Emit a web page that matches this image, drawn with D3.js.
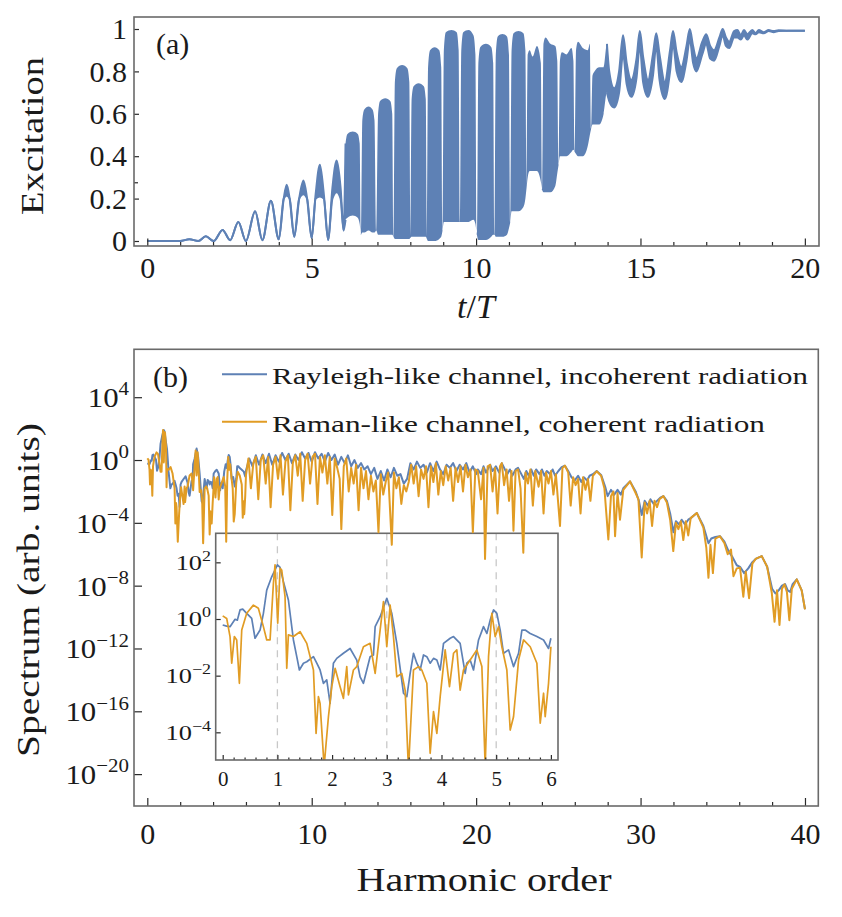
<!DOCTYPE html>
<html><head><meta charset="utf-8">
<script src="https://cdn.jsdelivr.net/npm/d3@7/dist/d3.min.js"></script>
<style>
html,body{margin:0;padding:0;background:#fff}
svg{display:block}
text{font-family:"Liberation Serif","Times New Roman",serif;fill:#1a1a1a}
</style></head><body>
<svg id="chart" width="842" height="917"></svg>
<script>
// ---------- Panel (a): excitation vs t/T (upper / lower envelope of the fast oscillation) ----------
const excT = [0,1,1.28,1.55,1.78,2.02,2.29,2.52,2.77,3,3.28,3.5,3.76,4,4.15,4.24,4.33,4.47,4.62,4.75,4.86,5,5.12,5.25,5.37,5.5,5.63,5.76,5.88,5.97,
  6.03,6.09,6.25,6.40,6.46, 6.50, 6.54,6.60,6.73,6.85,6.91, 6.965, 7.02,7.08,7.24,7.39,7.45, 7.49,
  7.53,7.59,7.75,7.91,7.97, 8.005, 8.04,8.10,8.25,8.41,8.47, 8.505, 8.54,8.60,8.74,8.88,8.94, 8.98,
  9.02,9.08,9.25,9.41,9.47, 9.51, 9.55,9.61,9.77,9.92,9.98, 10.025, 10.07,10.13,10.3,10.46,10.52, 10.56,
  10.6,10.66,10.8,10.94,11.0, 11.04, 11.08,11.14,11.29,11.44,11.5, 11.535, 11.57,11.63,11.72,11.85,11.97, 12.01,
  12.05,12.11,12.26,12.41,12.47, 12.51, 12.55,12.61,12.75,12.9,12.96, 13.0, 13.04,13.10,13.25,13.4,13.46, 13.5,
  13.54,13.6,13.75,13.88,
  13.98,14.05,14.2,14.35,14.47,14.58,14.72,14.88,14.98,15.08,15.23,15.38,15.48,15.58,15.74,15.9,15.99,
  16.1,16.24,16.4,16.5,16.6,16.7,16.88,17.0,17.12,17.24,17.4,17.5,17.6,17.7,
  17.85,17.95,18.05,18.15,18.25,18.4,18.5,18.6,18.75,18.9,19.05,19.2,19.5,20];
const excHi = [0,0,0.008,0,0.022,0,0.052,0.004,0.09,0,0.14,0.004,0.19,0.008,0.2,0.265,0.2,0.02,0.2,0.285,0.2,0.013,0.22,0.36,0.22,0.005,0.25,0.38,0.25,0.05,
  0.46,0.505,0.516,0.505,0.46, 0.03, 0.57,0.62,0.634,0.62,0.57, 0.05, 0.60,0.66,0.673,0.66,0.60, 0.02,
  0.75,0.815,0.83,0.815,0.75, 0.015, 0.67,0.73,0.744,0.73,0.67, 0.01, 0.82,0.90,0.914,0.90,0.82, 0.05,
  0.90,0.985,0.995,0.985,0.90, 0.09, 0.90,0.985,0.995,0.97,0.88, 0.03, 0.84,0.915,0.93,0.915,0.84, 0.03,
  0.88,0.965,0.976,0.965,0.88, 0.09, 0.90,0.98,0.99,0.98,0.90, 0.25, 0.88,0.90,0.87,0.92,0.84, 0.24,
  0.93,0.96,0.93,0.92,0.85, 0.36, 0.85,0.89,0.88,0.91,0.85, 0.42, 0.90,0.94,0.91,0.90,0.93, 0.53,
  0.78,0.80,0.82,0.82,
  0.93,0.80,0.72,0.80,0.97,0.84,0.76,0.86,0.99,0.87,0.76,0.88,0.98,0.88,0.75,0.90,0.99,
  0.89,0.82,0.92,1.0,0.92,0.86,0.94,0.975,0.92,0.90,0.96,1.0,0.96,0.94,
  0.99,0.995,0.97,0.995,0.975,0.995,0.98,0.995,0.985,0.995,0.99,0.994,0.992,0.992];
const excLo = [0,0,0.008,0,0.022,0,0.052,0.004,0.09,0,0.14,0.004,0.19,0.008,0.2,0.215,0.2,0.02,0.2,0.22,0.2,0.013,0.2,0.21,0.2,0.005,0.2,0.23,0.2,0.05,
  0.10,0.11,0.12,0.11,0.08, 0.03, 0.04,0.04,0.05,0.04,0.04, 0.05, 0.03,0.03,0.03,0.03,0.03, 0.02,
  0.01,0.01,0.01,0.01,0.01, 0.015, 0.02,0.02,0.02,0.02,0.02, 0.01, 0.0,0.0,0.0,0.01,0.02, 0.05,
  0.09,0.09,0.09,0.09,0.09, 0.09, 0.09,0.09,0.09,0.10,0.08, 0.03, 0.005,0.005,0.005,0.02,0.03, 0.03,
  0.02,0.02,0.02,0.03,0.06, 0.09, 0.14,0.14,0.14,0.16,0.20, 0.25, 0.30,0.33,0.33,0.33,0.28, 0.24,
  0.23,0.23,0.23,0.26,0.32, 0.36, 0.40,0.40,0.40,0.42,0.43, 0.42, 0.41,0.40,0.40,0.45,0.50, 0.53,
  0.55,0.55,0.55,0.60,
  0.70,0.66,0.63,0.70,0.88,0.74,0.68,0.77,0.92,0.75,0.68,0.78,0.92,0.76,0.67,0.80,0.93,
  0.80,0.75,0.85,0.95,0.84,0.80,0.88,0.93,0.86,0.85,0.92,0.97,0.92,0.91,
  0.96,0.96,0.95,0.97,0.95,0.98,0.975,0.985,0.98,0.99,0.985,0.99,0.992,0.992];
const excXTicks = [0,5,10,15,20];
const excYTicks = [0,0.2,0.4,0.6,0.8,1];

// ---------- Panel (b): spectra, log10 values, harmonic order 0..6 (also used by inset) ----------
const rayH0 = [0,0.073,0.134,0.226,0.268,0.317,0.366,0.439,0.53,0.591,0.683,0.744,0.805,0.896,1.0,1.049,1.11,1.201,1.293,1.354,
  1.402,1.476,1.537,1.659,1.72,1.78,1.841,1.902,1.963,2.024,2.085,2.207,2.329,2.451,2.512,2.573,2.634,2.695,2.756,2.787,
  2.878,3.0,3.091,3.183,3.305,3.366,3.427,3.488,3.549,3.61,3.671,3.732,3.793,3.854,3.915,3.976,4.037,4.159,4.22,4.341,
  4.433,4.463,4.524,4.585,4.677,4.768,4.829,4.89,4.951,5.012,5.073,5.134,5.226,5.317,5.409,5.47,5.53,5.622,5.744,5.866,5.957,6.0];
const rayL0 = [-0.21,-0.25,-0.27,-0.01,-0.04,0.32,0.35,0.2,0.02,-0.68,-0.39,0.2,1.02,1.49,1.91,1.82,1.32,0.67,-0.74,-1.33,
  -1.8,-1.56,-1.51,-1.33,-1.56,-1.8,-2.27,-2.15,-2.98,-1.56,-1.39,-1.21,-1.04,-1.45,-2.04,-2.27,-1.8,-1.33,-1.27,-0.27,
  0.08,0.73,0.2,-0.86,-2.62,-2.74,-1.92,-1.21,-1.56,-1.8,-1.27,-1.33,-1.56,-1.39,-1.45,-1.8,-0.86,-0.68,-0.62,-0.86,
  -1.92,-1.56,-1.45,-1.8,-0.74,-0.27,-0.51,-0.04,0.32,0.2,-0.39,-1.21,-1.09,-1.68,-1.21,-0.39,-0.39,-0.51,-0.62,-0.74,-1.04,-0.68];
const ramH0 = [0,0.073,0.134,0.165,0.213,0.256,0.305,0.348,0.439,0.561,0.652,0.744,0.805,0.866,0.927,0.957,1.006,1.049,1.079,1.14,
  1.171,1.201,1.293,1.415,1.537,1.659,1.707,1.75,1.78,1.854,1.933,1.994,2.055,2.146,2.207,2.268,2.299,2.39,2.451,2.573,
  2.695,2.787,2.878,2.939,3.0,3.061,3.122,3.183,3.274,3.335,3.396,3.488,3.579,3.64,3.732,3.793,3.854,3.915,3.976,4.067,
  4.146,4.22,4.28,4.341,4.402,4.524,4.646,4.738,4.799,4.86,4.921,4.982,5.043,5.104,5.195,5.256,5.317,5.409,5.5,5.622,
  5.744,5.805,5.866,5.896,5.957,6.0];
const ramL0 = [0.11,0.02,-0.62,-1.56,-0.62,-0.74,-2.27,-0.39,0.2,0.49,0.38,-0.27,-0.74,-0.74,1.26,1.91,-0.15,1.79,1.73,0.79,
  -1.74,-0.56,-0.62,-0.45,-0.86,-1.8,-4.04,-2.74,-2.98,-5.2,-3.45,-2.39,-1.74,-2.39,-2.8,-1.68,-2.68,-1.8,-1.68,-0.98,
  -0.86,-1.92,-0.39,0.61,-0.98,0.49,-0.62,-2.04,-1.92,-2.51,-5.3,-1.8,-1.68,-1.8,-2.27,-4.74,-3.27,-4.04,-2.74,-1.09,
  -2.39,-1.21,-1.09,-2.51,-1.8,-1.45,-1.09,-1.68,-5.2,-1.33,0.2,-0.62,-0.27,-0.98,-1.8,-3.92,-3.45,-1.45,-0.74,-0.98,
  -1.56,-3.68,-2.62,-3.45,-2.27,-0.98];

// ---------- Panel (b): harmonic order 6..40 ----------
const rayH1 = [6.2,6.4,6.6,6.8,7.0,7.2,7.4,7.6,7.8,8.0, 8.2,8.4,8.6,8.8,9.0,9.2,9.4,9.6,9.8,10.0,
  10.2,10.4,10.6,10.8,11.0,11.2,11.4,11.6,11.8,12.0, 12.2,12.4,12.6,12.8,13.0,13.2,13.4,13.6,13.8,14.0,
  14.2,14.4,14.6,14.8,15.0,15.2,15.4,15.6,15.8,16.0, 16.2,16.4,16.6,16.8,17.0,17.2,17.4,17.6,17.8,18.0,
  18.2,18.4,18.6,18.8,19.0,19.2,19.4,19.6,19.8,20.0,
  20.1,20.3,20.45,20.6,20.85,21.0,21.2,21.4,21.56,21.75, 21.9,22.05,22.2,22.4,22.55,22.75,22.9,23.05,23.2,23.35,
  23.5,23.65,23.85,24.0,24.15,24.3,24.5,24.65,24.8,25.0, 25.2,25.4,25.6,25.8,26.0,26.2,26.4,26.55,26.75,26.9,
  27.1,27.33,27.6,27.85,28.0,28.2,28.4,28.6,28.8,28.95, 29.36,29.7,29.9,30.07,30.25,30.45,30.6,30.8,31.0,31.2,
  31.39,31.6,31.8,32.0,32.15,32.35,32.5,32.7,32.9,33.05, 33.42,33.82,34.13,34.3,34.55,34.83,35.1,35.35,35.6,35.85,
  36.05,36.3,36.55,36.8,37.0,37.37,37.7,38.0,38.2,38.4, 38.6,38.79,38.95,39.1,39.25,39.5,39.8,40.0];
const rayL1 = [0.1,-0.4,0.3,-0.3,0.35,-0.2,0.4,-0.3,0.3,-0.1, 0.45,0.0,0.4,-0.2,0.35,0.0,0.5,0.1,0.45,-0.1,
  0.5,0.1,0.4,-0.1,0.45,0.0,0.35,-0.3,0.2,-0.2, 0.3,-0.4,0.0,-0.5,-0.2,-0.6,-0.4,-0.9,-0.5,-1.2,
  -0.7,-1.3,-0.6,-1.1,-0.5,-1.0,-0.9,-1.5,-1.2,-0.2, -0.6,-0.1,-0.5,-0.3,-0.8,-0.2,-0.7,-0.1,-0.6,-0.9,
  -0.3,-0.5,-0.2,-0.7,-0.3,-0.6,-0.2,-0.8,-0.4,-0.9,
  -0.6,-0.9,-0.4,-0.8,-0.3,-0.7,-0.4,-0.8,-0.2,-0.6, -0.9,-0.6,-1.0,-0.6,-0.5,-0.9,-1.2,-0.7,-1.0,-0.6,
  -1.0,-0.6,-0.9,-0.6,-1.0,-0.7,-0.9,-0.6,-1.0,-0.7, -0.45,-0.36,-0.7,-1.1,-1.3,-1.0,-1.4,-1.1,-1.3,-1.0,
  -0.9,-0.7,-0.95,-1.7,-2.3,-1.9,-2.2,-1.9,-2.2,-1.8, -1.36,-2.0,-2.6,-3.5,-2.6,-2.9,-2.5,-2.8,-2.6,-2.4,
  -2.3,-2.6,-3.4,-4.6,-3.9,-4.1,-3.8,-4.1,-3.8,-3.7, -3.37,-4.2,-5.3,-5.0,-4.9,-4.85,-5.2,-5.8,-6.2,-6.7,
  -6.8,-7.2,-6.9,-6.5,-6.3,-6.12,-6.8,-8.2,-8.5,-8.3, -8.0,-7.9,-8.3,-8.4,-7.9,-7.6,-8.3,-9.5];
const ramH1 = [6.15,6.3,6.45,6.6,6.75,6.9,7.05,7.2,7.35,7.5, 7.65,7.8,7.95,8.1,8.25,8.4,8.55,8.7,8.85,9.0,
  9.15,9.3,9.45,9.6,9.75,9.9,10.05,10.2,10.35,10.5, 10.65,10.8,10.95,11.1,11.25,11.4,11.55,11.7,11.8,11.95,
  12.1,12.25,12.4,12.55,12.7,12.85,13.0,13.15,13.3,13.45, 13.6,13.75,13.9,14.06,14.2,14.35,14.5,14.65,14.87,15.0,
  15.15,15.3,15.45,15.6,15.75,15.9,16.05,16.2,16.35,16.5, 16.65,16.8,16.95,17.1,17.25,17.4,17.55,17.7,17.85,18.0,
  18.15,18.3,18.45,18.6,18.75,18.9,19.05,19.2,19.35,19.5, 19.65,19.8,19.95,
  20.1,20.3,20.45,20.54,20.7,20.85,21.0,21.15,21.3,21.45, 21.56,21.7,21.85,22.0,22.15,22.27,22.4,22.55,22.7,22.87,
  23.0,23.15,23.3,23.45,23.6,23.8,23.95,24.1,24.25,24.4, 24.55,24.7,24.85,25.1,25.25,25.4,25.6,25.75,25.9,26.05,
  26.2,26.35,26.5,26.65,26.8,26.95,27.1,27.33,27.6,27.8, 28.04,28.2,28.35,28.45,28.6,28.75,28.95,29.36,29.7,29.87,
  30.07,30.25,30.4,30.55,30.7,30.85,31.0,31.15,31.39,31.6, 31.8,31.99,32.15,32.3,32.45,32.6,32.75,32.9,33.05,33.42,
  33.82,34.0,34.13,34.25,34.4,34.55,34.83,35.1,35.3,35.5, 35.65,35.85,36.05,36.25,36.4,36.6,36.8,37.0,37.37,37.7,
  37.98,38.15,38.3,38.45,38.6,38.75,38.9,39.05,39.2,39.5, 39.8,40.0];
const ramL1 = [0.1,-1.8,-0.2,0.2,-2.5,0.0,0.3,-1.5,0.2,-3.0, -0.3,0.2,-1.2,0.3,-2.2,-0.1,0.3,-3.2,-0.2,0.3,
  -1.0,0.4,-2.6,0.0,0.4,-1.5,0.2,0.4,-2.8,0.2, -0.8,0.3,-1.5,0.2,-3.5,0.1,-0.5,-1.2,-4.4,-0.4,
  0.1,-2.0,-0.5,-1.5,-0.3,-3.2,-0.5,-1.8,-0.7,-2.5, -1.0,-2.0,-1.3,-4.6,-0.9,-2.2,-1.4,-0.8,-5.4,-0.8,
  -1.8,-1.1,-2.8,-1.6,-2.0,-1.4,-0.3,-1.5,-0.4,-2.3, -0.6,-1.2,-0.4,-3.0,-0.4,-1.4,-0.2,-2.2,-0.7,-1.6,
  -0.4,-1.3,-0.5,-2.6,-0.5,-1.4,-0.4,-2.0,-0.3,-1.1, -0.6,-4.6,-0.6,
  -0.7,-2.5,-0.5,-6.3,-0.4,-0.3,-2.0,-0.5,-3.4,-0.4, -0.2,-1.6,-0.6,-2.6,-0.7,-4.5,-0.7,-0.6,-1.8,-5.9,
  -0.8,-1.5,-0.6,-2.9,-0.7,-1.7,-0.7,-3.4,-0.8,-1.5, -0.7,-2.2,-0.9,-4.2,-0.5,-0.36,-0.8,-2.9,-1.1,-1.6,
  -1.2,-3.4,-1.1,-1.9,-1.2,-2.6,-1.0,-0.72,-1.0,-1.8, -5.06,-2.3,-2.0,-4.85,-2.1,-3.8,-1.9,-1.36,-2.1,-2.5,
  -6.2,-2.7,-3.4,-2.6,-4.2,-2.6,-3.0,-2.5,-2.3,-2.7, -3.8,-5.8,-4.0,-4.4,-3.9,-5.1,-3.9,-4.8,-3.7,-3.37,
  -4.3,-5.6,-7.5,-5.4,-7.2,-5.0,-4.85,-5.3,-6.0,-5.7, -7.4,-6.9,-6.86,-8.7,-7.1,-8.8,-6.6,-6.3,-6.12,-6.8,
  -8.45,-10.3,-8.3,-10.5,-8.2,-7.92,-8.4,-10.2,-8.2,-7.6, -8.3,-9.51];
const specXTicks = [0,10,20,30,40];
const specYExp = [4,0,-4,-8,-12,-16,-20];
const insetXTicks = [0,1,2,3,4,5,6];
const insetYExp = [2,0,-2,-4];
const insetMarks = [1,3,5];
const legendLabels = ["Rayleigh-like channel, incoherent radiation","Raman-like channel, coherent radiation"];

// ---------- drawing ----------
const BLUE="#5e81b5", ORANGE="#e19c24", FRAME="#6a6a6a", TICK="#2a2a2a";
const svg=d3.select("#chart");
const defs=svg.append("defs");
function clip(id,x,y,w,h){defs.append("clipPath").attr("id",id).append("rect").attr("x",x).attr("y",y).attr("width",w).attr("height",h);}
function styleAxis(g,fs){
  g.select(".domain").remove();
  g.selectAll(".tick line").attr("stroke",TICK).attr("stroke-width",1.2);
  g.selectAll(".tick text").attr("fill","#1a1a1a").style("font-family",'"Liberation Serif","Times New Roman",serif').style("font-size",fs+"px");
}
function frame(b){svg.append("rect").attr("x",b.l).attr("y",b.t).attr("width",b.r-b.l).attr("height",b.b-b.t).attr("fill","none").attr("stroke",FRAME).attr("stroke-width",1.6);}
function supLabel(x,y,exp,fs,sx){
  const t=svg.append("text").attr("transform",`translate(${x},${y}) scale(${sx},1)`).attr("text-anchor","end").style("font-size",fs+"px");
  t.append("tspan").text("10");
  t.append("tspan").attr("dy",-0.42*fs).style("font-size",(fs*0.68)+"px").text(exp<0?"\u2212"+(-exp):String(exp));
}

// Panel A
const A={l:134,r:819,t:17,b:246};
const ax=d3.scaleLinear().domain([-0.404,20.43]).range([A.l,A.r]);
const ay=d3.scaleLinear().domain([-0.0236,1.0566]).range([A.b,A.t]);
clip("clipA",A.l,A.t,A.r-A.l,A.b-A.t);
const idxA=d3.range(excT.length);
const gA=svg.append("g").attr("clip-path","url(#clipA)");
gA.append("path").datum(idxA)
  .attr("d",d3.area().x(i=>ax(excT[i])).y0(i=>ay(excLo[i])).y1(i=>ay(excHi[i])).curve(d3.curveMonotoneX))
  .attr("fill",BLUE);
// outline only where the trace is a resolvable line (not the dense fast-oscillation block)
const lineRegion=i=>excT[i]<=6.03||excT[i]>=13.98;
[excHi,excLo].forEach(arr=>{
  gA.append("path").datum(idxA)
    .attr("d",d3.line().defined(lineRegion).x(i=>ax(excT[i])).y(i=>ay(arr[i])).curve(d3.curveMonotoneX))
    .attr("fill","none").attr("stroke",BLUE).attr("stroke-width",2).attr("stroke-linejoin","round");
});
styleAxis(svg.append("g").attr("transform",`translate(0,${A.b})`)
  .call(d3.axisBottom(ax).tickValues(excXTicks).tickSize(-7.5).tickPadding(11).tickFormat(d3.format("d"))),30);
styleAxis(svg.append("g").attr("transform",`translate(0,${A.b})`)
  .call(d3.axisBottom(ax).tickValues(d3.range(0,21).filter(d=>d%5)).tickSize(-4).tickFormat("")),30);
styleAxis(svg.append("g").attr("transform",`translate(${A.l},0)`)
  .call(d3.axisLeft(ay).tickValues(excYTicks).tickSize(-5).tickPadding(7).tickFormat(d=>d===0?"0":d===1?"1":d3.format(".1f")(d))),30);
styleAxis(svg.append("g").attr("transform",`translate(${A.l},0)`)
  .call(d3.axisLeft(ay).tickValues([0.277]).tickSize(-4).tickFormat("")),30);
frame(A);
svg.append("text").attr("x",156).attr("y",54).style("font-size","30px").text("(a)");
svg.append("text").attr("transform","translate(43,136) rotate(-90)").attr("text-anchor","middle")
  .style("font-size","32px").attr("textLength",158).attr("lengthAdjust","spacingAndGlyphs").text("Excitation");
const tT=svg.append("text").attr("x",476).attr("y",318).attr("text-anchor","middle").style("font-size","34px");
tT.append("tspan").style("font-style","italic").text("t");
tT.append("tspan").text("/");
tT.append("tspan").style("font-style","italic").text("T");

// Panel B
const B={l:134,r:818.3,t:349.3,b:806};
const bx=d3.scaleLinear().domain([-0.809,40.81]).range([B.l,B.r]);
const by=d3.scaleLog().domain([Math.pow(10,-22.03),Math.pow(10,7.05)]).range([B.b,B.t]);
clip("clipB",B.l,B.t,B.r-B.l,B.b-B.t);

// Inset (drawn first, main curves pass over it)
const I={l:215.7,r:558,t:533.3,b:760};
const ix=d3.scaleLinear().domain([-0.128,6.13]).range([I.l,I.r]);
const iy=d3.scaleLog().domain([Math.pow(10,-4.977),Math.pow(10,3.025)]).range([I.b,I.t]);
clip("clipI",I.l,I.t,I.r-I.l,I.b-I.t);
svg.append("rect").attr("x",I.l).attr("y",I.t).attr("width",I.r-I.l).attr("height",I.b-I.t).attr("fill","#fff");
const gI=svg.append("g").attr("clip-path","url(#clipI)");
insetMarks.forEach(m=>{
  gI.append("line").attr("x1",ix(m)).attr("x2",ix(m)).attr("y1",I.t).attr("y2",I.b)
    .attr("stroke","#c8c8c8").attr("stroke-width",1.3).attr("stroke-dasharray","7,6");
});
function drawSeries(g,hs,ls,xs,ys,color,w){
  const idx=d3.range(hs.length);
  g.append("path").datum(idx)
    .attr("d",d3.line().x(i=>xs(hs[i])).y(i=>ys(Math.pow(10,ls[i]))))
    .attr("fill","none").attr("stroke",color).attr("stroke-width",w).attr("stroke-linejoin","round");
}
drawSeries(gI,rayH0,rayL0,ix,iy,BLUE,1.7);
drawSeries(gI,ramH0,ramL0,ix,iy,ORANGE,1.7);
styleAxis(svg.append("g").attr("transform",`translate(0,${I.b})`)
  .call(d3.axisBottom(ix).tickValues(insetXTicks).tickSize(-5).tickPadding(11).tickFormat(d3.format("d"))),21);
styleAxis(svg.append("g").attr("transform",`translate(0,${I.b})`)
  .call(d3.axisBottom(ix).tickValues(d3.range(0,31).filter(d=>d%5).map(d=>d/5)).tickSize(-2.5).tickFormat("")),21);
styleAxis(svg.append("g").attr("transform",`translate(${I.l},0)`)
  .call(d3.axisLeft(iy).tickValues(insetYExp.map(e=>Math.pow(10,e))).tickSize(-5).tickFormat("")),21);
frame(I);
insetYExp.forEach(e=>supLabel(211,iy(Math.pow(10,e))+7.5,e,22,1.2));

// main spectra
const gB=svg.append("g").attr("clip-path","url(#clipB)");
drawSeries(gB,rayH0.concat(rayH1),rayL0.concat(rayL1),bx,by,BLUE,2);
drawSeries(gB,ramH0.concat(ramH1),ramL0.concat(ramL1),bx,by,ORANGE,2);
styleAxis(svg.append("g").attr("transform",`translate(0,${B.b})`)
  .call(d3.axisBottom(bx).tickValues(specXTicks).tickSize(-8).tickPadding(17).tickFormat(d3.format("d"))),30);
styleAxis(svg.append("g").attr("transform",`translate(0,${B.b})`)
  .call(d3.axisBottom(bx).tickValues(d3.range(2,40,2).filter(d=>d%10)).tickSize(-4).tickFormat("")),30);
styleAxis(svg.append("g").attr("transform",`translate(${B.l},0)`)
  .call(d3.axisLeft(by).tickValues(specYExp.map(e=>Math.pow(10,e))).tickSize(-8).tickFormat("")),30);
frame(B);
specYExp.forEach(e=>supLabel(129,by(Math.pow(10,e))+10,e,28,1.1));

svg.append("text").attr("x",153).attr("y",387).style("font-size","30px").text("(b)");
// legend
[[374.3,384,BLUE,536],[421.7,431.5,ORANGE,493]].forEach((p,k)=>{
  svg.append("line").attr("x1",222).attr("x2",267).attr("y1",p[0]).attr("y2",p[0]).attr("stroke",p[2]).attr("stroke-width",2);
  svg.append("text").attr("x",272).attr("y",p[1]).style("font-size","24px")
    .attr("textLength",p[3]).attr("lengthAdjust","spacingAndGlyphs").text(legendLabels[k]);
});
svg.append("text").attr("transform","translate(39,590) rotate(-90)").attr("text-anchor","middle")
  .style("font-size","32px").attr("textLength",334).attr("lengthAdjust","spacingAndGlyphs").text("Spectrum (arb. units)");
svg.append("text").attr("x",484).attr("y",891).attr("text-anchor","middle")
  .style("font-size","34px").attr("textLength",255).attr("lengthAdjust","spacingAndGlyphs").text("Harmonic order");
</script>
</body></html>
